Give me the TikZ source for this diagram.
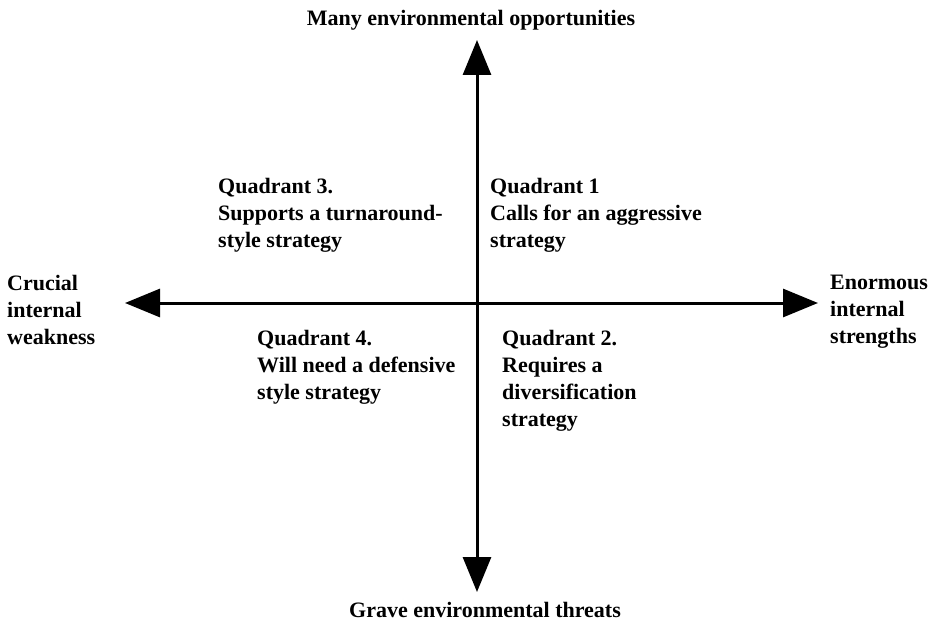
\documentclass[tikz,border=0pt]{standalone}
\usepackage{fontspec}
\setmainfont{Liberation Serif}
\usetikzlibrary{arrows.meta}
\begin{document}
\begin{tikzpicture}[x=1pt,y=-1pt,
  axisline/.style={line width=3pt,{Triangle[length=35pt,width=28pt]}-{Triangle[length=35pt,width=28pt]}},
  lbl/.style={font=\fontsize{22}{27}\selectfont\bfseries,inner sep=0pt,align=left},
]
\useasboundingbox[fill=white] (0,0) rectangle (932,623);
\coordinate (T) at (477,40);
\coordinate (B) at (477,592);
\coordinate (L) at (125,303);
\coordinate (R) at (818,303);
\draw[axisline] (B) -- (T);
\draw[axisline] (L) -- (R);
\node[lbl,anchor=base] (top) at (471,26) {Many environmental opportunities};
\node[lbl,anchor=base] (bot) at (485,617) {Grave environmental threats};
\node[lbl,anchor=north west] (lt) at (7,275) {Crucial\\internal\\weakness};
\node[lbl,anchor=north west] (rt) at (830,275) {Enormous\\internal\\strengths};
\node[lbl,anchor=north west] (q3) at (218,178) {Quadrant 3.\\Supports a turnaround-\\style strategy};
\node[lbl,anchor=north west] (q1) at (490,178) {Quadrant 1\\Calls for an aggressive\\strategy};
\node[lbl,anchor=north west] (q4) at (257,330) {Quadrant 4.\\Will need a defensive\\style strategy};
\node[lbl,anchor=north west] (q2) at (502,330) {Quadrant 2.\\Requires a\\diversification\\strategy};
\end{tikzpicture}
\end{document}
